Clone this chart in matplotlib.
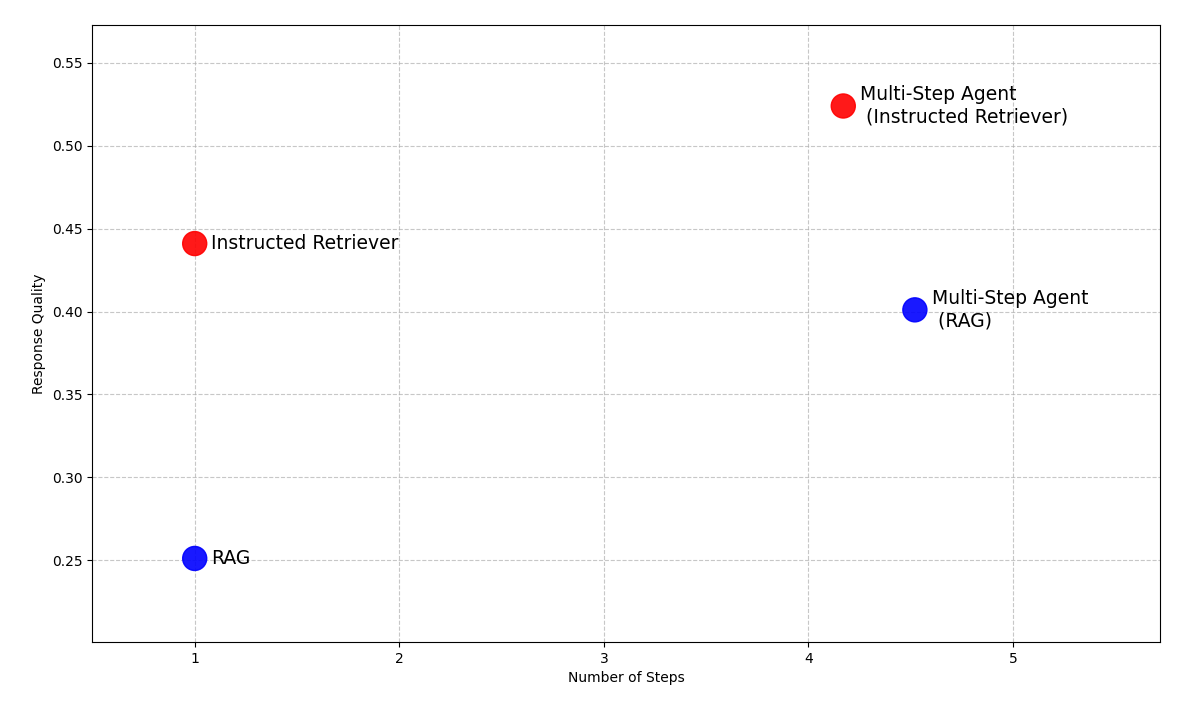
import matplotlib.pyplot as plt

names = ["RAG", "Instructed Retriever", "Multi-Step Agent\n (RAG)", "Multi-Step Agent\n (Instructed Retriever)"]
steps = [1.0, 1.0, 4.52, 4.17]
quality = [0.251, 0.441, 0.401, 0.524]
colors = ["blue", "red", "blue", "red"]

fig, ax = plt.subplots(figsize=(12, 7.08), dpi=100)
ax.scatter(steps, quality, c=colors, s=300, alpha=0.9, zorder=3)
for name, x, y in zip(names, steps, quality):
    ax.annotate(name, (x, y), xytext=(12, 0), textcoords="offset points",
                fontsize=13.5, va="center")

ax.set_xlim(0.5, 5.72)
ax.set_ylim(0.2005, 0.573)
ax.set_xlabel("Number of Steps")
ax.set_ylabel("Response Quality")
ax.grid(True, linestyle="--", alpha=0.7)

plt.subplots_adjust(left=0.077, right=0.967, top=0.965, bottom=0.093)
plt.savefig("out.png", dpi=100)
plt.close()
